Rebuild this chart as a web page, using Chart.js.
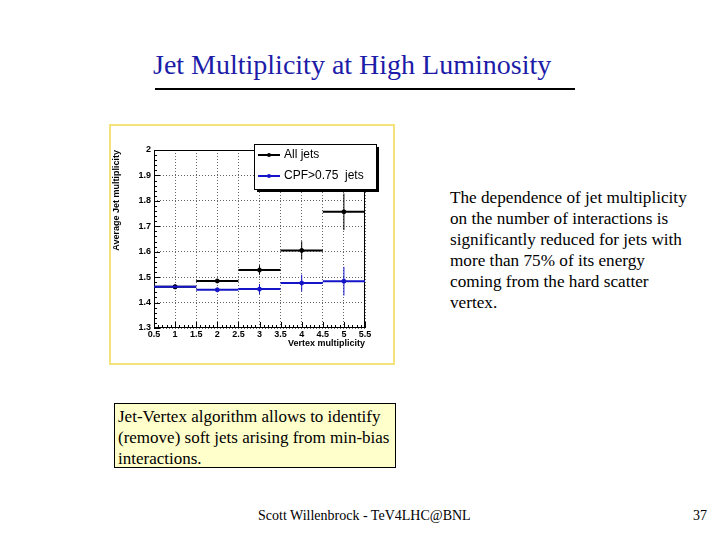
<!DOCTYPE html>
<html>
<head>
<meta charset="utf-8">
<script src="https://cdn.jsdelivr.net/npm/chart.js@4"></script>
<style>
  body { margin: 0; width: 720px; height: 540px; background: #fff; position: relative; overflow: hidden; font-family: "Liberation Serif", "DejaVu Serif", serif; }
  .title { position: absolute; left: 153px; top: 49px; font-family: "Liberation Serif", serif; font-size: 28px; color: #1c1ca8; white-space: nowrap; }
  .rule { position: absolute; left: 155px; top: 88px; width: 420px; height: 2px; background: #000; }
  .chartbox { position: absolute; left: 109px; top: 124px; width: 282px; height: 237px; border: 2px solid #f4e27a; }
  .chartbox canvas { position: absolute; left: 0; top: 0; }
  .side { position: absolute; left: 450px; top: 187px; font-size: 17.2px; line-height: 21px; color: #000; white-space: nowrap; }
  .note { position: absolute; left: 114px; top: 403px; width: 274px; height: 61px; border: 1px solid #000; background: #ffffcc; padding: 2px 3px 0 3px; font-size: 17px; line-height: 21px; white-space: nowrap; }
  .foot { position: absolute; top: 508px; font-size: 14px; color: #000; }
</style>
</head>
<body>
<div class="title">Jet Multiplicity at High Luminosity</div>
<div class="rule"></div>
<div class="chartbox"><canvas id="myChart" width="282" height="237"></canvas></div>
<div class="side">The dependence of jet multiplicity<br>on the number of interactions is<br>significantly reduced for jets with<br>more than 75% of its energy<br>coming from the hard scatter<br>vertex.</div>
<div class="note">Jet-Vertex algorithm allows to identify<br>(remove) soft jets arising from min-bias<br>interactions.</div>
<div class="foot" style="left:258px">Scott Willenbrock - TeV4LHC@BNL</div>
<div class="foot" style="left:693px">37</div>
<script>
// values
const vertexMult = [1, 2, 3, 4, 5];
const binHalf = [0.5, 0.5, 0.5, 0.5, 0.5];
const allJets = [1.462, 1.485, 1.528, 1.605, 1.757];
const allJetsErr = [0.004, 0.008, 0.019, 0.036, 0.072];
const cpfJets = [1.462, 1.450, 1.453, 1.477, 1.484];
const cpfJetsErr = [0.004, 0.008, 0.02, 0.033, 0.056];
const xTicks = [0.5, 1, 1.5, 2, 2.5, 3, 3.5, 4, 4.5, 5, 5.5];
const yTicks = [1.3, 1.4, 1.5, 1.6, 1.7, 1.8, 1.9, 2];

const blackCol = "#000000";
const blueCol = "#1414c8";

function pts(ys) {
  return vertexMult.map((x, i) => ({x: x, y: ys[i]}));
}

// error bars drawn through the chart scales
const errorBars = {
  id: "errorBars",
  afterDatasetsDraw(chart) {
    const ctx = chart.ctx;
    const xs = chart.scales.x, ys = chart.scales.y;
    chart.data.datasets.forEach(ds => {
      ctx.save();
      ctx.strokeStyle = ds.borderColor;
      ds.data.forEach((p, i) => {
        let py = ys.getPixelForValue(p.y);
        ctx.lineWidth = 2;
        ctx.beginPath();
        ctx.moveTo(xs.getPixelForValue(p.x - binHalf[i]), py);
        ctx.lineTo(xs.getPixelForValue(p.x + binHalf[i]), py);
        ctx.stroke();
        ctx.lineWidth = 1;
        ctx.beginPath();
        ctx.moveTo(xs.getPixelForValue(p.x), ys.getPixelForValue(p.y - ds.yErr[i]));
        ctx.lineTo(xs.getPixelForValue(p.x), ys.getPixelForValue(p.y + ds.yErr[i]));
        ctx.stroke();
      });
      ctx.restore();
    });
  }
};

// solid frame + inward ROOT-like tick marks
const frameTicks = {
  id: "frameTicks",
  beforeDatasetsDraw(chart) {
    const ctx = chart.ctx, a = chart.chartArea;
    const xs = chart.scales.x, ys = chart.scales.y;
    ctx.save();
    ctx.strokeStyle = "#000";
    ctx.lineWidth = 1;
    ctx.strokeRect(a.left + 0.5, a.top + 0.5, a.right - a.left - 1, a.bottom - a.top - 1);
    ctx.beginPath();
    for (let i = 0; i < xTicks.length; i++) {
      let px = Math.round(xs.getPixelForValue(xTicks[i])) + 0.5;
      ctx.moveTo(px, a.bottom); ctx.lineTo(px, a.bottom - 6);
      if (i < xTicks.length - 1) {
        for (let k = 1; k < 5; k++) {
          let mx = Math.round(xs.getPixelForValue(xTicks[i] + k * (xTicks[i + 1] - xTicks[i]) / 5)) + 0.5;
          ctx.moveTo(mx, a.bottom); ctx.lineTo(mx, a.bottom - 3);
        }
      }
    }
    for (let i = 0; i < yTicks.length; i++) {
      let py = Math.round(ys.getPixelForValue(yTicks[i])) + 0.5;
      ctx.moveTo(a.left, py); ctx.lineTo(a.left + 6, py);
      if (i < yTicks.length - 1) {
        for (let k = 1; k < 5; k++) {
          let my = Math.round(ys.getPixelForValue(yTicks[i] + k * (yTicks[i + 1] - yTicks[i]) / 5)) + 0.5;
          ctx.moveTo(a.left, my); ctx.lineTo(a.left + 3, my);
        }
      }
    }
    ctx.stroke();
    ctx.restore();
  }
};

// ROOT style legend box with shadow
const boxLegend = {
  id: "boxLegend",
  afterDraw(chart) {
    const ctx = chart.ctx;
    const x0 = 143, y0 = 18, w = 122, h = 45;
    ctx.save();
    ctx.fillStyle = "#000";
    ctx.fillRect(x0 + 3, y0 + 3, w, h);
    ctx.fillStyle = "#fff";
    ctx.fillRect(x0, y0, w, h);
    ctx.strokeStyle = "#000";
    ctx.lineWidth = 1;
    ctx.strokeRect(x0 + 0.5, y0 + 0.5, w, h);
    ctx.font = "12px 'Liberation Sans', Arial, sans-serif";
    ctx.textBaseline = "middle";
    chart.data.datasets.forEach((ds, i) => {
      let ly = y0 + 11 + i * 21;
      ctx.strokeStyle = ds.borderColor;
      ctx.lineWidth = 2;
      ctx.beginPath();
      ctx.moveTo(x0 + 4, ly);
      ctx.lineTo(x0 + 26, ly);
      ctx.stroke();
      ctx.fillStyle = ds.borderColor;
      ctx.beginPath();
      ctx.arc(x0 + 15, ly, 2, 0, Math.PI * 2);
      ctx.fill();
      ctx.fillStyle = "#000";
      ctx.fillText(ds.label, x0 + 30, ly);
    });
    ctx.restore();
  }
};

const tickFont = {family: "'Liberation Sans', Arial, sans-serif", size: 9, weight: "bold"};

new Chart("myChart", {
  type: "scatter",
  data: {
    datasets: [
      {label: "All jets", data: pts(allJets), yErr: allJetsErr, borderColor: blackCol, backgroundColor: blackCol, pointRadius: 2, pointHoverRadius: 2},
      {label: "CPF>0.75  jets", data: pts(cpfJets), yErr: cpfJetsErr, borderColor: blueCol, backgroundColor: blueCol, pointRadius: 2, pointHoverRadius: 2}
    ]
  },
  plugins: [frameTicks, errorBars, boxLegend],
  options: {
    responsive: false,
    animation: false,
    layout: {padding: {top: 24, right: 28, left: 0, bottom: 14}},
    plugins: {legend: {display: false}, tooltip: {enabled: false}},
    scales: {
      x: {
        type: "linear", min: 0.5, max: 5.5,
        afterBuildTicks: s => { s.ticks = xTicks.map(v => ({value: v})); },
        afterFit: s => { s.height = 21; },
        ticks: {font: tickFont, color: "#000", padding: 1, maxRotation: 0, autoSkip: false, callback: v => String(v)},
        grid: {color: "#666", lineWidth: 1, drawTicks: false},
        border: {display: false, dash: [1, 2]},
        title: {display: true, text: "Vertex multiplicity", align: "end", font: tickFont, color: "#000", padding: 0}
      },
      y: {
        type: "linear", min: 1.3, max: 2,
        afterBuildTicks: s => { s.ticks = yTicks.map(v => ({value: v})); },
        afterFit: s => { s.width = 43; },
        ticks: {font: tickFont, color: "#000", padding: 3, callback: v => String(v)},
        grid: {color: "#666", lineWidth: 1, drawTicks: false},
        border: {display: false, dash: [1, 2]},
        title: {display: true, text: "Average Jet multiplicity", align: "end", font: tickFont, color: "#000", padding: 0}
      }
    }
  }
});
</script>
</body>
</html>
